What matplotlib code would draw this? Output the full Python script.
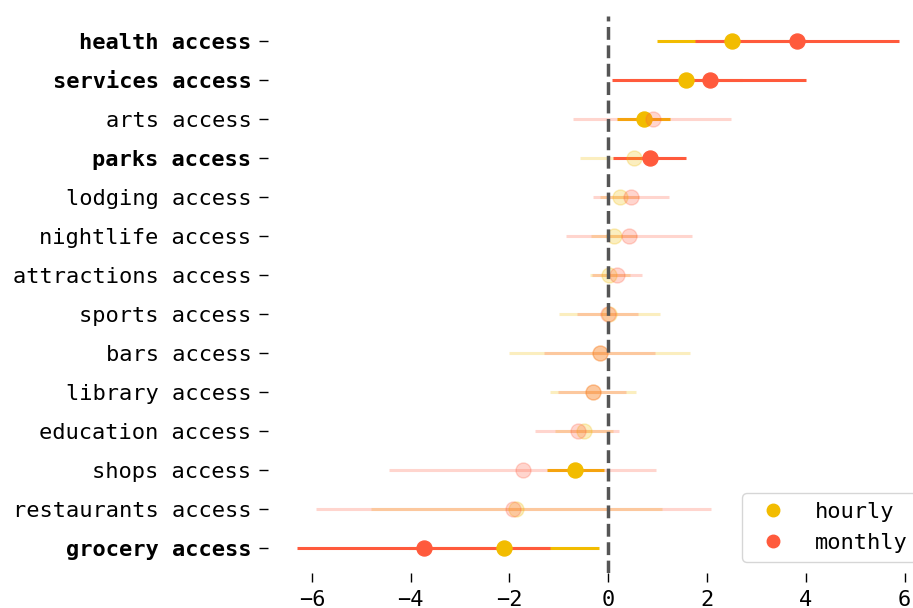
import numpy as np
import matplotlib.pyplot as plt
from matplotlib.lines import Line2D

plt.rcParams['font.family'] = ['DejaVu Sans Mono']

# Rows from top to bottom
features = ["health access", "services access", "arts access", "parks access",
            "lodging access", "nightlife access", "attractions access", "sports access",
            "bars access", "library access", "education access", "shops access",
            "restaurants access", "grocery access"]
bold_rows = ["health access", "services access", "parks access", "grocery access"]

# Hourly model: estimate, CI low, CI high, significant?
hourly_est = [2.50, 1.57, 0.73, 0.53, 0.24, 0.12, 0.02, 0.02, -0.16, -0.31, -0.50, -0.67, -1.86, -2.11]
hourly_lo = [0.98, 0.45, 0.18, -0.57, -0.16, -0.35, -0.37, -1.00, -2.01, -1.18, -1.08, -1.25, -4.80, -4.04]
hourly_hi = [4.02, 2.70, 1.26, 1.50, 0.62, 0.58, 0.44, 1.04, 1.65, 0.56, 0.10, -0.08, 1.08, -0.18]
hourly_sig = [True, True, True, False, False, False, False, False, False, False, False, True, False, True]

# Monthly model
monthly_est = [3.82, 2.05, 0.91, 0.85, 0.46, 0.42, 0.18, -0.01, -0.16, -0.30, -0.62, -1.72, -1.92, -3.73]
monthly_lo = [1.75, 0.07, -0.71, 0.10, -0.31, -0.85, -0.33, -0.64, -1.30, -1.01, -1.48, -4.43, -5.91, -6.31]
monthly_hi = [5.89, 4.00, 2.49, 1.58, 1.22, 1.70, 0.68, 0.61, 0.94, 0.36, 0.22, 0.97, 2.07, -1.17]
monthly_sig = [True, True, False, True, False, False, False, False, False, False, False, False, False, True]

hourly_color = "#F2BC00"
monthly_color = "#FF5A3C"

fig = plt.figure(figsize=(9.13, 6.08), dpi=100)
ax = fig.add_axes([0.2935, 0.0576, 0.7065, 0.9167])

ypos = np.arange(len(features))
series = [
    (hourly_est, hourly_lo, hourly_hi, hourly_sig, hourly_color),
    (monthly_est, monthly_lo, monthly_hi, monthly_sig, monthly_color),
]
for est, lo, hi, sig, color in series:
    for i, y in enumerate(ypos):
        a = 1.0 if sig[i] else 0.25
        ax.plot([lo[i], hi[i]], [y, y], color=color, lw=2.2, alpha=a,
                solid_capstyle='butt', zorder=2)
        ax.plot(est[i], y, 'o', color=color, markersize=10.8, alpha=a, zorder=3)

ax.axvline(0, color="#555555", lw=2.5, ls='--', zorder=4)

ax.set_yticks(ypos)
ax.set_yticklabels(features)
for lab in ax.get_yticklabels():
    if lab.get_text() in bold_rows:
        lab.set_fontweight('bold')
ax.set_ylim(len(features) - 1 + 0.65, -0.65)
ax.set_xlim(-6.89, 6.17)
ax.set_xticks([-6, -4, -2, 0, 2, 4, 6])
ax.tick_params(labelsize=15.8, length=6.5, width=1, pad=5.5)

for s in ax.spines.values():
    s.set_visible(False)

handles = [
    Line2D([], [], marker='o', ls='', color=hourly_color, markersize=9, label='hourly'),
    Line2D([], [], marker='o', ls='', color=monthly_color, markersize=9, label='monthly'),
]
ax.legend(handles=handles, loc='lower right', bbox_to_anchor=(1.005, 0.02),
          fontsize=15.8, borderaxespad=0, handletextpad=0.9)

fig.savefig("out.png", dpi=100)
